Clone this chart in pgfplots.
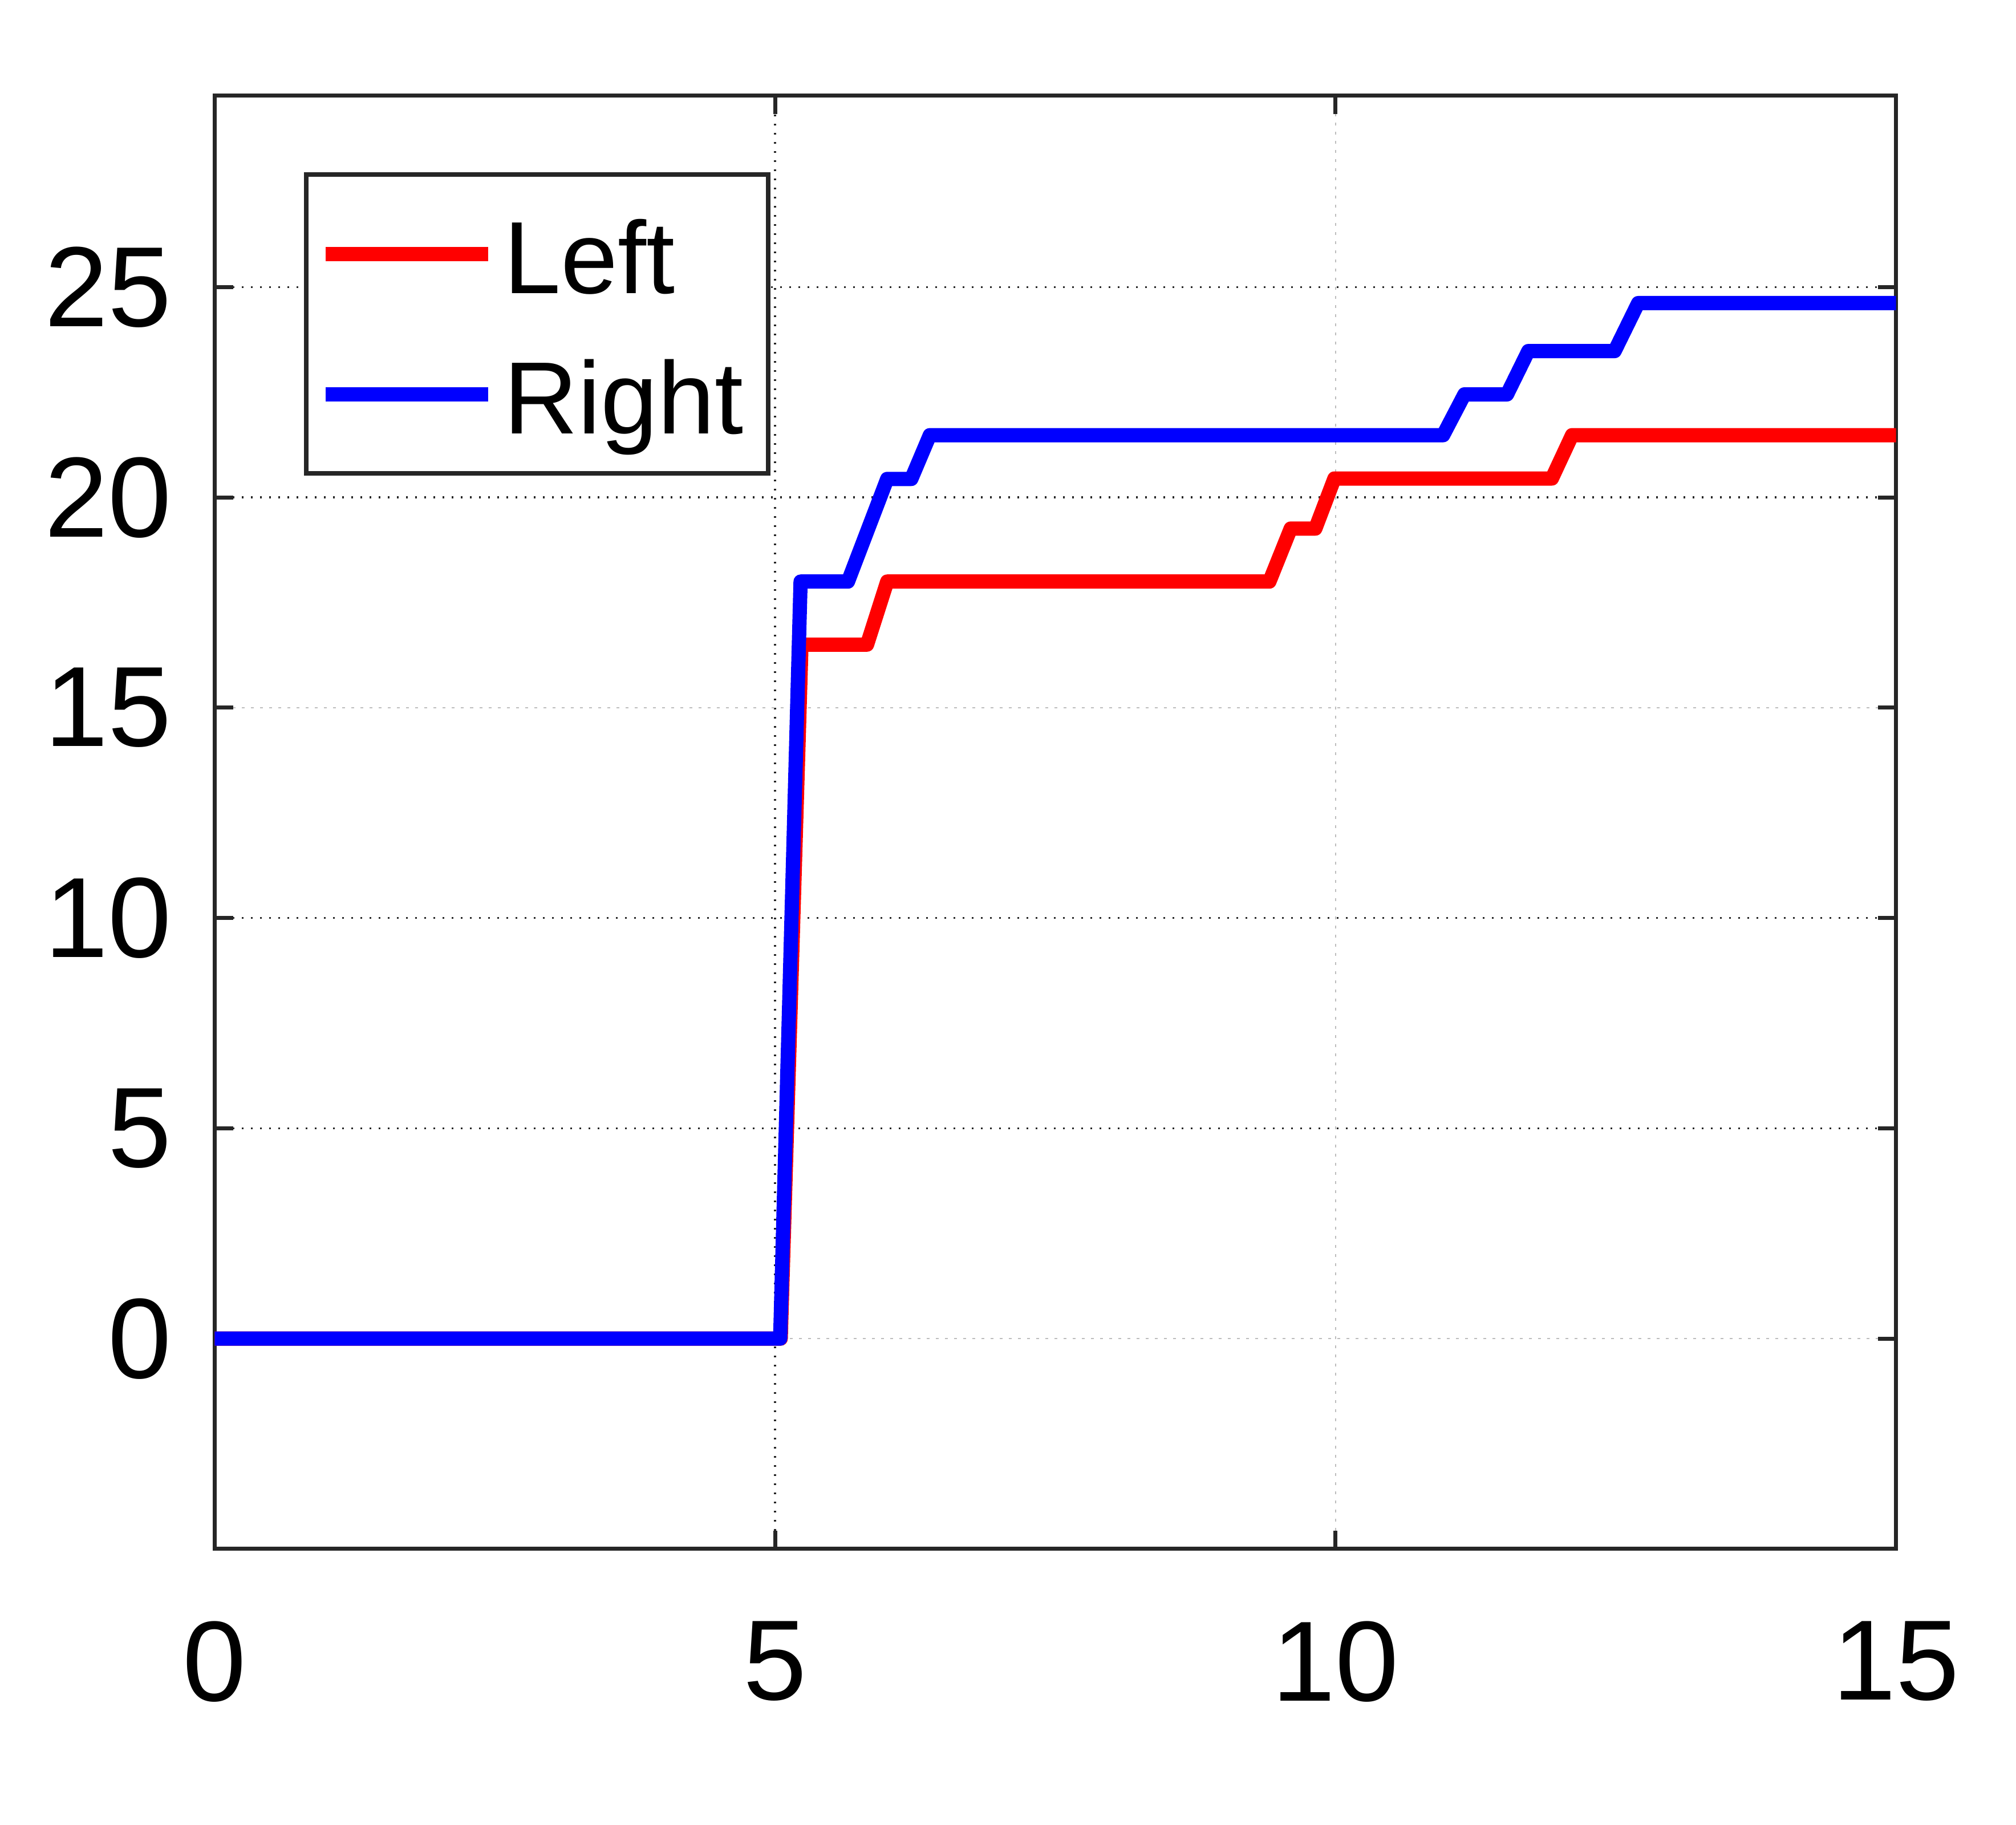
\documentclass[border=0pt]{standalone}
\usepackage{fontspec}
\setmainfont{Liberation Sans}
\usepackage{pgfplots}
\pgfplotsset{compat=1.18}
\definecolor{axgray}{HTML}{262626}
\definecolor{gridlight}{HTML}{BDBDBD}
\begin{document}
\begin{tikzpicture}
\path (0,0) rectangle (353.5pt,320pt);
\begin{axis}[
  at={(37.65pt,48.4pt)}, anchor=south west,
  width=294.8pt, height=254.8pt, scale only axis,
  xmin=0, xmax=15, ymin=-5, ymax=29.55,
  xtick={0,5,15}, extra x ticks={10},
  ytick={5,10,20,25}, extra y ticks={0,15},
  axis line style={axgray, line width=0.7pt},
  tick style={axgray, line width=0.7pt},
  major tick length=3.2pt,
  tick align=inside,
  xmajorgrids, ymajorgrids,
  major grid style={axgray, line width=0.35pt, dash pattern=on 0.3pt off 1.3pt},
  extra x tick style={major grid style={gridlight, line width=0.25pt, dash pattern=on 0.5pt off 1.1pt}},
  extra y tick style={major grid style={gridlight, line width=0.25pt, dash pattern=on 0.5pt off 1.1pt}},
  tick label style={font=\fontsize{20}{24}\selectfont, text=black},
  /pgf/number format/assume math mode=true,
  xticklabel shift=9.2pt,
  yticklabel shift=4pt,
  legend cell align=left,
  legend style={at={(axis description cs:0.053,0.9472)}, anchor=north west,
    draw=axgray, line width=0.8pt, fill=white,
    font=\fontsize{18}{21.6}\selectfont,
    inner xsep=2.2pt, inner ysep=1.6pt, row sep=0pt,
    nodes={inner xsep=0pt, inner ysep=0pt, text height=19.2pt, text depth=5.4pt},
    /tikz/every odd column/.append style={column sep=-0.6pt},
    /tikz/every even column/.append style={nodes={inner xsep=2.1pt}}},
  legend image code/.code={\draw[#1, line width=2.5pt] (0pt,0pt) -- (28.5pt,0pt);},
]
\addplot[red, line width=2.5pt, line join=round] coordinates {
(0,0) (5.05,0) (5.235,16.5) (5.82,16.5) (6.0,18) (9.41,18) (9.60,19.26) (9.82,19.26)
(9.99,20.45) (11.93,20.45) (12.11,21.48) (15,21.48)};
\addlegendentry{Left}
\addplot[blue, line width=2.5pt, line join=round] coordinates {
(0,0) (5.045,0) (5.227,18) (5.65,18) (6.0,20.44) (6.215,20.44) (6.38,21.48) (10.96,21.48)
(11.15,22.45) (11.53,22.45) (11.72,23.48) (12.49,23.48) (12.70,24.62) (15,24.62)};
\addlegendentry{Right}
\end{axis}
\end{tikzpicture}
\end{document}
